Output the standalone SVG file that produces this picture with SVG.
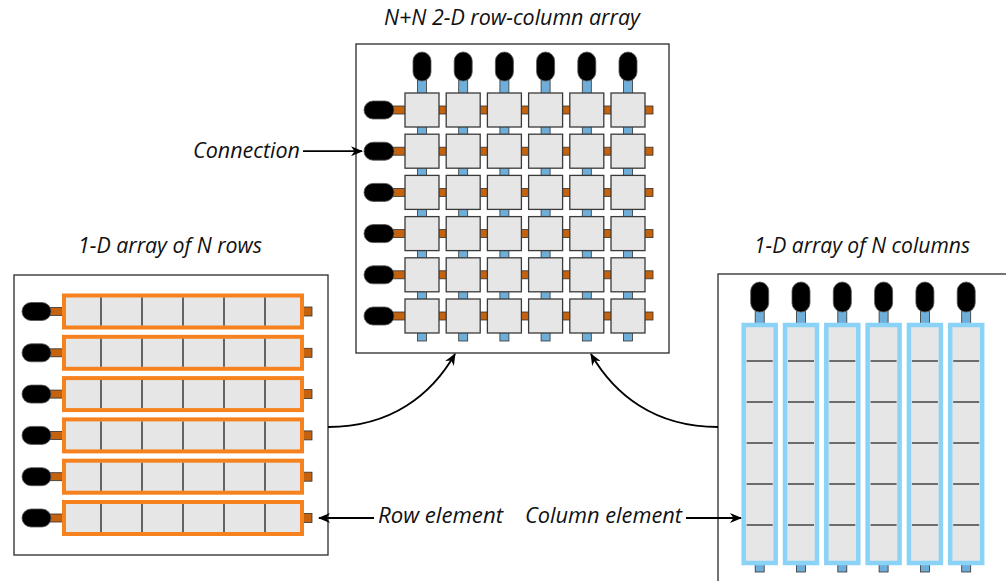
<svg xmlns="http://www.w3.org/2000/svg" xmlns:xlink="http://www.w3.org/1999/xlink" width="1006" height="581" viewBox="0 0 1006 581">
<style>
.frame{fill:#fff;stroke:#2a2a2a;stroke-width:1.3}
.cell{fill:#e6e6e6;stroke:#3a3a3a;stroke-width:1.3}
.pill{fill:#000;stroke:#555;stroke-width:0.8}
.ob{fill:#c4620e;stroke:#333;stroke-width:0.8}
.bb{fill:#6eaed8;stroke:#333;stroke-width:0.8}
.orow{fill:#e6e6e6;stroke:#f5821f;stroke-width:4}
.bcol{fill:#e6e6e6;stroke:#8ad3f7;stroke-width:4.5}
.div{stroke:#444;stroke-width:1.6}
.lbl{font-family:"Open Sans","Noto Sans",sans-serif;font-style:italic;font-size:21px;fill:#111}
.con{fill:none;stroke:#000;stroke-width:1.8}
</style>
<defs>
<marker id="ah" viewBox="0 0 12 10" refX="11" refY="5" markerWidth="12" markerHeight="10" markerUnits="userSpaceOnUse" orient="auto">
<path d="M0,0 L12,5 L0,10 L3.5,5 z" fill="#000"/>
</marker>
<rect id="c" class="cell" width="34" height="34"/>
<rect id="tp" class="pill" width="18" height="29" rx="9"/>
<rect id="lp" class="pill" width="30" height="18" rx="9"/>
</defs>

<g id="array-2d">
<rect class="frame" x="356" y="44" width="313" height="309"/>
<rect class="ob" x="392" y="106" width="261" height="8"/>
<rect class="ob" x="392" y="147.2" width="261" height="8"/>
<rect class="ob" x="392" y="188.4" width="261" height="8"/>
<rect class="ob" x="392" y="229.6" width="261" height="8"/>
<rect class="ob" x="392" y="270.8" width="261" height="8"/>
<rect class="ob" x="392" y="312" width="261" height="8"/>
<rect class="bb" x="417.5" y="79" width="9" height="262"/>
<rect class="bb" x="458.7" y="79" width="9" height="262"/>
<rect class="bb" x="499.9" y="79" width="9" height="262"/>
<rect class="bb" x="541.1" y="79" width="9" height="262"/>
<rect class="bb" x="582.3" y="79" width="9" height="262"/>
<rect class="bb" x="623.5" y="79" width="9" height="262"/>
<use href="#tp" x="413" y="52"/><use href="#tp" x="454.2" y="52"/><use href="#tp" x="495.4" y="52"/><use href="#tp" x="536.6" y="52"/><use href="#tp" x="577.8" y="52"/><use href="#tp" x="619" y="52"/>
<use href="#lp" x="364" y="101"/><use href="#lp" x="364" y="142.2"/><use href="#lp" x="364" y="183.4"/><use href="#lp" x="364" y="224.6"/><use href="#lp" x="364" y="265.8"/><use href="#lp" x="364" y="307"/>
<use href="#c" x="405" y="93"/><use href="#c" x="446.2" y="93"/><use href="#c" x="487.4" y="93"/><use href="#c" x="528.6" y="93"/><use href="#c" x="569.8" y="93"/><use href="#c" x="611" y="93"/>
<use href="#c" x="405" y="134.2"/><use href="#c" x="446.2" y="134.2"/><use href="#c" x="487.4" y="134.2"/><use href="#c" x="528.6" y="134.2"/><use href="#c" x="569.8" y="134.2"/><use href="#c" x="611" y="134.2"/>
<use href="#c" x="405" y="175.4"/><use href="#c" x="446.2" y="175.4"/><use href="#c" x="487.4" y="175.4"/><use href="#c" x="528.6" y="175.4"/><use href="#c" x="569.8" y="175.4"/><use href="#c" x="611" y="175.4"/>
<use href="#c" x="405" y="216.6"/><use href="#c" x="446.2" y="216.6"/><use href="#c" x="487.4" y="216.6"/><use href="#c" x="528.6" y="216.6"/><use href="#c" x="569.8" y="216.6"/><use href="#c" x="611" y="216.6"/>
<use href="#c" x="405" y="257.8"/><use href="#c" x="446.2" y="257.8"/><use href="#c" x="487.4" y="257.8"/><use href="#c" x="528.6" y="257.8"/><use href="#c" x="569.8" y="257.8"/><use href="#c" x="611" y="257.8"/>
<use href="#c" x="405" y="299"/><use href="#c" x="446.2" y="299"/><use href="#c" x="487.4" y="299"/><use href="#c" x="528.6" y="299"/><use href="#c" x="569.8" y="299"/><use href="#c" x="611" y="299"/>
</g>

<g id="array-rows">
<rect class="frame" x="14" y="275" width="314" height="280"/>
<g id="row1" transform="translate(0,311.5)">
<rect class="ob" x="48" y="-4" width="16" height="8"/><rect class="ob" x="302" y="-4.5" width="10" height="9"/>
<rect class="pill" x="22" y="-9" width="29" height="18" rx="9"/>
<rect class="orow" x="64" y="-16" width="238" height="32"/>
<path class="div" d="M101,-14V14M142,-14V14M183,-14V14M224,-14V14M265,-14V14"/>
</g>
<use href="#row1" y="41.3"/>
<use href="#row1" y="82.6"/>
<use href="#row1" y="123.9"/>
<use href="#row1" y="165.2"/>
<use href="#row1" y="206.5"/>
</g>

<g id="array-cols">
<rect class="frame" x="718" y="274" width="300" height="320"/>
<g id="col1" transform="translate(759.7,0)">
<rect class="bb" x="-4.5" y="309" width="9" height="16"/><rect class="bb" x="-4.5" y="563" width="9" height="9"/>
<rect class="pill" x="-9" y="282" width="18" height="30" rx="9"/>
<rect class="bcol" x="-16" y="325" width="32" height="238"/>
<path class="div" d="M-13,361H13M-13,402H13M-13,443H13M-13,484H13M-13,525H13"/>
</g>
<use href="#col1" x="41.3"/>
<use href="#col1" x="82.6"/>
<use href="#col1" x="123.9"/>
<use href="#col1" x="165.2"/>
<use href="#col1" x="206.5"/>
</g>

<g id="connectors">
<path class="con" d="M328,427 C392,427 432,394 455,354" marker-end="url(#ah)"/>
<path class="con" d="M718,427 C654,427 614,394 591,354" marker-end="url(#ah)"/>
<path class="con" d="M303,151.2 H362" marker-end="url(#ah)"/>
<path class="con" d="M374,518 H319" marker-end="url(#ah)"/>
<path class="con" d="M686,518 H741" marker-end="url(#ah)"/>
</g>

<g id="labels">
<text class="lbl" x="384" y="25" textLength="256" lengthAdjust="spacingAndGlyphs">N+N 2-D row-column array</text>
<text class="lbl" x="78" y="253" textLength="184" lengthAdjust="spacingAndGlyphs">1-D array of N rows</text>
<text class="lbl" x="754" y="253" textLength="216" lengthAdjust="spacingAndGlyphs">1-D array of N columns</text>
<text class="lbl" x="193" y="158" textLength="107" lengthAdjust="spacingAndGlyphs">Connection</text>
<text class="lbl" x="378" y="523" textLength="125" lengthAdjust="spacingAndGlyphs">Row element</text>
<text class="lbl" x="525" y="523" textLength="157" lengthAdjust="spacingAndGlyphs">Column element</text>
</g>
</svg>
